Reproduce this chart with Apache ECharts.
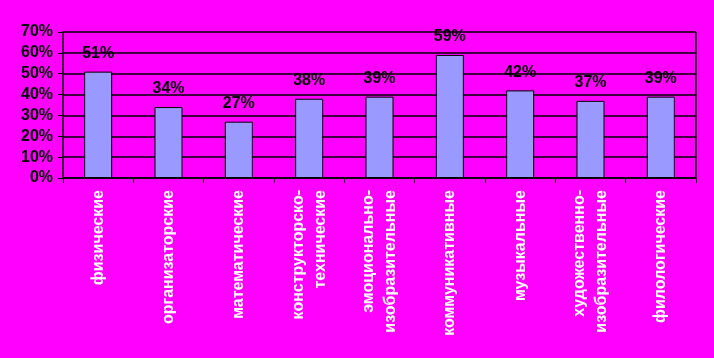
<!DOCTYPE html>
<html><head><meta charset="utf-8">
<script src="https://cdn.jsdelivr.net/npm/echarts@6/dist/echarts.min.js"></script>
<style>html,body{margin:0;padding:0;background:#ff00ff;}#c{width:714px;height:358px;}</style>
</head><body><div id="c"></div>
<script>
var categories = ['физические','организаторские','математические','конструкторско-\nтехнические','эмоционально-\nизобразительные','коммуникативные','музыкальные','художественно-\nизобразительные','филологические'];
var values = [51,34,27,38,39,59,42,37,39];
var yTicks = [0,10,20,30,40,50,60,70];

var chart = echarts.init(document.getElementById('c'), null, {renderer:'canvas'});
chart.setOption({
  backgroundColor:'#ff00ff',
  animation:false,
  grid:{left:63, right:18, top:32, bottom:180},
  xAxis:{
    type:'category', data:categories,
    axisLine:{lineStyle:{color:'#000', width:1.5}},
    axisTick:{show:true, length:5, lineStyle:{color:'#000'}},
    axisLabel:{rotate:90, interval:0, margin:12, color:'#fff', fontFamily:'Liberation Sans, Arial', fontWeight:'bold', fontSize:16, lineHeight:22,
      textShadowColor:'#000', textShadowOffsetX:1, textShadowOffsetY:1, textShadowBlur:0}
  },
  yAxis:{
    type:'value', min:yTicks[0], max:yTicks[yTicks.length-1], interval:yTicks[1]-yTicks[0],
    axisLine:{show:true, lineStyle:{color:'#000', width:1.5}},
    axisTick:{show:true, length:5, lineStyle:{color:'#000'}},
    splitLine:{lineStyle:{color:'#000', width:1.5}},
    axisLabel:{margin:10, color:'#000', fontFamily:'Liberation Sans, Arial', fontWeight:'bold', fontSize:16,
      formatter:function(v){return v+'%';},
      textShadowColor:'#fff', textShadowOffsetX:-1, textShadowOffsetY:-1, textShadowBlur:0}
  },
  series:[{
    type:'bar', data:values, barWidth:28,
    itemStyle:{color:'#9999ff', borderColor:'#000', borderWidth:1},
    label:{show:true, position:'top', distance:10, formatter:'{c}%', color:'#000', fontFamily:'Liberation Sans, Arial', fontWeight:'bold', fontSize:16,
      textShadowColor:'#fff', textShadowOffsetX:-1, textShadowOffsetY:-1, textShadowBlur:0}
  }],
  graphic:[{type:'line', shape:{x1:696, y1:32, x2:696, y2:178}, style:{stroke:'#000', lineWidth:1.5}}]
});
</script></body></html>
